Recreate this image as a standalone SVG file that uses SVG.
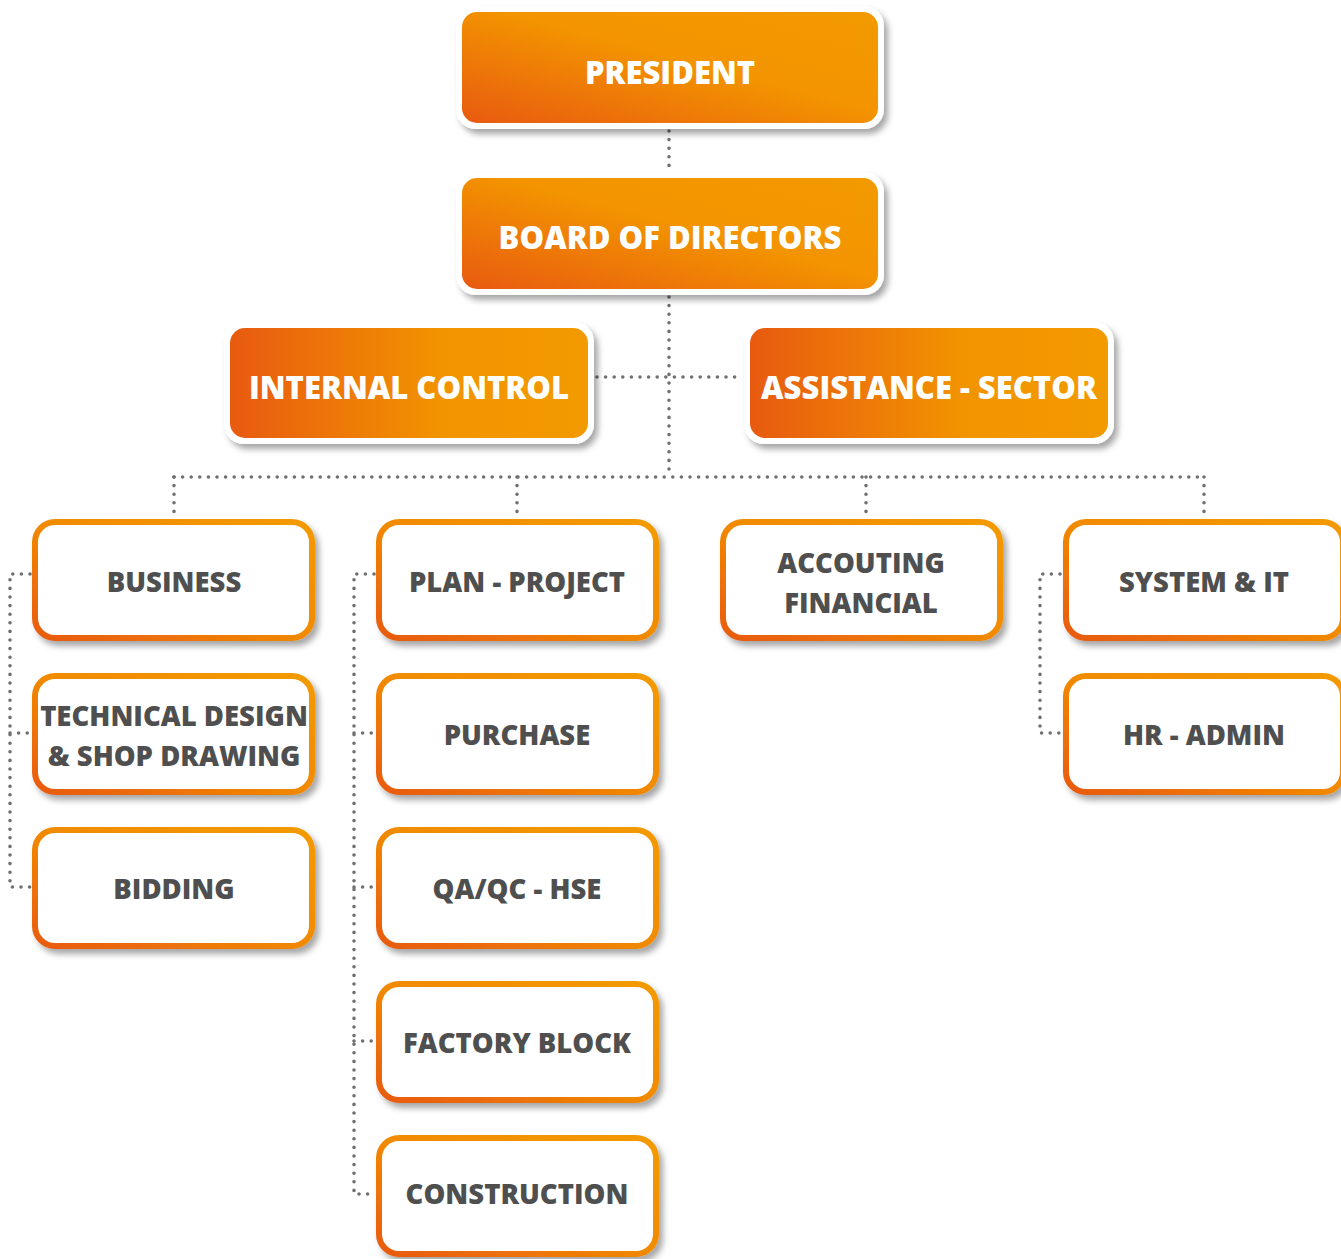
<svg xmlns="http://www.w3.org/2000/svg" width="1341" height="1259" viewBox="0 0 1341 1259">
<defs>
<linearGradient id="gDiag" x1="0" y1="1" x2="1" y2="0">
<stop offset="0" stop-color="#E85A10"/><stop offset="0.55" stop-color="#F39400"/><stop offset="1" stop-color="#F39A00"/>
</linearGradient>
<linearGradient id="gH" x1="0" y1="0" x2="1" y2="0">
<stop offset="0" stop-color="#E85A10"/><stop offset="0.6" stop-color="#F29400"/><stop offset="1" stop-color="#F39A00"/>
</linearGradient>
<linearGradient id="gStroke" x1="0" y1="1" x2="1" y2="0">
<stop offset="0" stop-color="#E85A10"/><stop offset="0.5" stop-color="#F18A00"/><stop offset="1" stop-color="#F39A00"/>
</linearGradient>
<filter id="sh" x="-10%" y="-20%" width="125%" height="150%">
<feDropShadow dx="4" dy="5" stdDeviation="3" flood-color="#000" flood-opacity="0.35"/>
</filter>
<style>
.outer{fill:#fff;filter:url(#sh)}
.tw{font-family:"Open Sans","Liberation Sans",sans-serif;font-weight:800;font-size:31px;fill:#fff;text-anchor:middle}
.tg{font-family:"Open Sans","Liberation Sans",sans-serif;font-weight:800;font-size:27.5px;fill:#4f4f4f;text-anchor:middle}
.box{fill:#fff;stroke:url(#gStroke);stroke-width:6;filter:url(#sh)}
.con{fill:none;stroke:#707070;stroke-width:3.6;stroke-linecap:round;stroke-dasharray:0 8.6}
</style>
</defs>
<g id="connectors">
<path class="con" d="M669 131V172"/>
<path class="con" d="M669 297V477"/>
<path class="con" d="M597 377H743"/>
<path class="con" d="M174 477H1204"/>
<path class="con" d="M174 477V514M517 477V514M866 477V514M1204 477V514"/>
<path class="con" d="M30 574H10V887H30M10 733H30"/>
<path class="con" d="M374 574H354V1194H374M354 733H374M354 887H374M354 1041H374"/>
<path class="con" d="M1060 574H1040V733H1060"/>
</g>
<g id="president">
<rect class="outer" x="456" y="6" width="428" height="123" rx="20"/>
<rect x="462" y="12" width="416" height="111" rx="15" fill="url(#gDiag)"/>
<text class="tw" x="670" y="84">PRESIDENT</text>
</g>
<g id="board">
<rect class="outer" x="456" y="172" width="428" height="123" rx="20"/>
<rect x="462" y="178" width="416" height="111" rx="15" fill="url(#gDiag)"/>
<text class="tw" x="670" y="249">BOARD OF DIRECTORS</text>
</g>
<g id="internal-control">
<rect class="outer" x="224" y="322" width="370" height="122" rx="20"/>
<rect x="230" y="328" width="358" height="110" rx="15" fill="url(#gH)"/>
<text class="tw" x="409" y="399">INTERNAL CONTROL</text>
</g>
<g id="assistance">
<rect class="outer" x="744" y="322" width="370" height="122" rx="20"/>
<rect x="750" y="328" width="358" height="110" rx="15" fill="url(#gH)"/>
<text class="tw" x="929" y="399">ASSISTANCE - SECTOR</text>
</g>
<g id="business">
<rect class="box" x="35" y="522" width="277" height="116" rx="20"/>
<text class="tg" x="174" y="592">BUSINESS</text>
</g>
<g id="technical-design">
<rect class="box" x="35" y="676" width="277" height="116" rx="20"/>
<text class="tg" x="174" y="726">TECHNICAL DESIGN</text>
<text class="tg" x="174" y="766">&amp; SHOP DRAWING</text>
</g>
<g id="bidding">
<rect class="box" x="35" y="830" width="277" height="116" rx="20"/>
<text class="tg" x="174" y="899">BIDDING</text>
</g>
<g id="plan-project">
<rect class="box" x="379" y="522" width="277" height="116" rx="20"/>
<text class="tg" x="517" y="592">PLAN - PROJECT</text>
</g>
<g id="purchase">
<rect class="box" x="379" y="676" width="277" height="116" rx="20"/>
<text class="tg" x="517" y="745">PURCHASE</text>
</g>
<g id="qaqc">
<rect class="box" x="379" y="830" width="277" height="116" rx="20"/>
<text class="tg" x="517" y="899">QA/QC - HSE</text>
</g>
<g id="factory-block">
<rect class="box" x="379" y="984" width="277" height="116" rx="20"/>
<text class="tg" x="517" y="1053">FACTORY BLOCK</text>
</g>
<g id="construction">
<rect class="box" x="379" y="1138" width="277" height="116" rx="20"/>
<text class="tg" x="517" y="1204">CONSTRUCTION</text>
</g>
<g id="accounting">
<rect class="box" x="723" y="522" width="277" height="116" rx="20"/>
<text class="tg" x="861" y="573">ACCOUTING</text>
<text class="tg" x="861" y="613">FINANCIAL</text>
</g>
<g id="system-it">
<rect class="box" x="1066" y="522" width="277" height="116" rx="20"/>
<text class="tg" x="1204" y="592">SYSTEM &amp; IT</text>
</g>
<g id="hr-admin">
<rect class="box" x="1066" y="676" width="277" height="116" rx="20"/>
<text class="tg" x="1204" y="745">HR - ADMIN</text>
</g>
</svg>
